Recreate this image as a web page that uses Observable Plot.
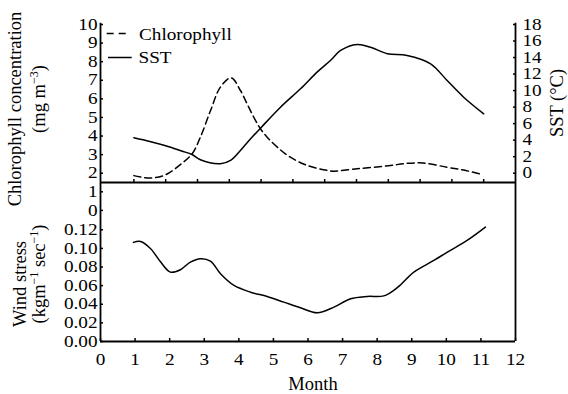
<!DOCTYPE html>
<html><head><meta charset="utf-8">
<script src="https://cdn.jsdelivr.net/npm/d3@7"></script>
<script src="https://cdn.jsdelivr.net/npm/@observablehq/plot@0.6"></script>
<style>
html,body{margin:0;padding:0;background:#fff;}
#chart{position:relative;width:568px;height:394px;overflow:hidden;font-family:"Liberation Serif","Times New Roman",serif;}
#chart svg{position:absolute;left:0;top:0;background:transparent;overflow:visible;}
</style></head><body><div id="chart"></div>
<script>
// ---------- data ----------
const chlMonth = [1.0, 1.5, 2.0, 2.5, 2.83, 3.09, 3.41, 3.72, 4.06, 4.35, 4.56, 4.77, 4.98, 5.19, 5.51, 5.92, 6.45, 7.08, 7.29, 8.02, 9.0, 9.6, 10.1, 10.85, 11.37, 11.9];
const chlValue = [1.87, 1.74, 1.92, 2.52, 3.04, 3.94, 5.37, 6.63, 7.13, 6.45, 5.73, 5.01, 4.39, 3.94, 3.4, 2.86, 2.42, 2.15, 2.11, 2.24, 2.4, 2.53, 2.55, 2.32, 2.17, 1.95];
const sstMonth = [1.0, 1.5, 2.0, 2.5, 2.83, 3.09, 3.72, 4.04, 4.35, 4.67, 5.01, 5.61, 6.24, 6.76, 7.18, 7.5, 8.02, 8.44, 8.97, 9.59, 10.33, 10.85, 11.37, 12.0];
const sstValue = [4.29, 3.84, 3.32, 2.69, 2.26, 1.62, 1.14, 1.54, 2.75, 4.16, 5.57, 7.99, 10.22, 12.23, 13.64, 14.86, 15.58, 15.25, 14.46, 14.25, 13.24, 11.22, 9.2, 7.19];
const windMonth = [0.95, 1.16, 1.45, 1.74, 2.02, 2.31, 2.60, 2.89, 3.18, 3.47, 3.86, 4.34, 4.82, 5.30, 5.78, 6.27, 6.75, 7.23, 7.71, 8.19, 8.48, 8.68, 9.06, 9.64, 10.03, 10.6, 11.13];
const windValue = [0.1065, 0.1075, 0.0997, 0.0853, 0.0745, 0.0771, 0.0853, 0.089, 0.0864, 0.0728, 0.0602, 0.053, 0.0484, 0.0423, 0.0362, 0.0308, 0.0369, 0.0459, 0.0484, 0.049, 0.055, 0.061, 0.0745, 0.0871, 0.096, 0.1086, 0.1229];

const chlTicks = [0,1,2,3,4,5,6,7,8,9,10];
const sstTicks = [0,2,4,6,8,10,12,14,16,18];
const windTicks = [0,0.02,0.04,0.06,0.08,0.10,0.12];
const monthTicks = [0,1,2,3,4,5,6,7,8,9,10,11,12];
const topMonthTicks = [1,2,3,4,5,6,7,8,9,10,11,12];
const topPanelFloor = 1.5;

const chl = chlMonth.map((m,i) => ({month: m, value: chlValue[i]}));
const sst = sstMonth.map((m,i) => ({month: m, value: sstValue[i]}));
const wind = windMonth.map((m,i) => ({month: m, value: windValue[i]}));

// ---------- layout ----------
const W = 568, H = 394;
const font = "Liberation Serif";
const common = {width: W, height: H, style: {background: "transparent", fontFamily: font, fontSize: "16px", color: "#000", overflow: "visible"}};
const axisW = 1.8, lineW = 1.5;

// left chlorophyll axis + middle panel line
const plotC = Plot.plot({
  ...common,
  marginLeft: 100, marginRight: 53, marginTop: 24, marginBottom: H - 209.9,
  x: {domain: [0, 13], axis: null},
  y: {domain: [0, 10]},
  marks: [
    Plot.axisY(chlTicks, {anchor: "left", tickSize: -3, tickPadding: 6, strokeWidth: 1.5, label: null}),
    Plot.ruleY([topPanelFloor], {strokeWidth: axisW})
  ]
});

// chlorophyll line + top panel month ticks
const plotM = Plot.plot({
  ...common,
  marginLeft: 101.6, marginRight: 53, marginTop: 24, marginBottom: H - 182,
  x: {domain: [0, 13]},
  y: {domain: [topPanelFloor, 10], axis: null},
  marks: [
    Plot.axisX(topMonthTicks, {anchor: "bottom", tickSize: -3, tickFormat: () => "", strokeWidth: 1.5, label: null}),
    Plot.line(chl, {x: "month", y: "value", curve: "catmull-rom", stroke: "#000", strokeWidth: lineW, strokeDasharray: "7,4"})
  ]
});

// SST line + right axis
const plotS = Plot.plot({
  ...common,
  marginLeft: 101.6, marginRight: 53, marginTop: 24, marginBottom: H - 172.7,
  x: {domain: [0, 13], axis: null},
  y: {domain: [0, 18]},
  marks: [
    Plot.axisY(sstTicks, {anchor: "right", tickSize: -3, tickPadding: 10, strokeWidth: 1.5, label: null}),
    Plot.line(sst, {x: "month", y: "value", curve: "catmull-rom", stroke: "#000", strokeWidth: lineW})
  ]
});

// wind stress panel
const plotW = Plot.plot({
  ...common,
  marginLeft: 100, marginRight: 53, marginTop: 229.3, marginBottom: 53,
  x: {domain: [0, 12]},
  y: {domain: [0, 0.12]},
  marks: [
    Plot.ruleX([0, 12], {insetTop: -(229.3 - 22.7), strokeWidth: axisW}),
    Plot.ruleY([0], {strokeWidth: axisW}),
    Plot.axisX(monthTicks, {anchor: "bottom", tickSize: -3, tickPadding: 15.6, strokeWidth: 1.5, label: null}),
    Plot.axisY(windTicks, {anchor: "left", tickSize: -3, tickPadding: 6, strokeWidth: 1.5, tickFormat: d3.format(".2f"), label: null}),
    Plot.line(wind, {x: "month", y: "value", curve: "catmull-rom", stroke: "#000", strokeWidth: lineW})
  ]
});

function stretch(svg, k) {
  svg.querySelectorAll("text").forEach(t => {
    let tr = t.getAttribute("transform");
    if (tr == null) {
      const x = +t.getAttribute("x") || 0, y = +t.getAttribute("y") || 0;
      t.removeAttribute("x"); t.removeAttribute("y");
      tr = `translate(${x},${y})`;
    }
    t.setAttribute("transform", tr + ` scale(${k},1)`);
  });
}
[plotC, plotS, plotW].forEach(p => stretch(p, 1.2));

const chart = document.getElementById("chart");
[plotC, plotM, plotS, plotW].forEach(p => chart.appendChild(p));

// ---------- titles and legend ----------
const ov = d3.select(chart).append("svg").attr("width", W).attr("height", H)
  .style("font-family", font).attr("fill", "#000");
const tsize = 18.5;
function vtitle(x, y, parts) {
  const t = ov.append("text").attr("transform", `translate(${x},${y}) rotate(-90)`)
    .attr("text-anchor", "middle").attr("font-size", tsize);
  parts.forEach(([s, sup]) => {
    const sp = t.append("tspan").text(s);
    if (sup === 1) sp.attr("dy", -7).attr("font-size", 12);
    if (sup === -1) sp.attr("dy", 7);
  });
  return t;
}
vtitle(21, 109, [["Chlorophyll concentration", 0]]);
vtitle(45, 99, [["(mg m", 0], ["\u22123", 1], [")", -1]]);
vtitle(25.5, 284, [["Wind stress", 0]]);
vtitle(45, 274, [["(kgm", 0], ["\u22121", 1], [" sec", -1], ["\u22121", 1], [")", -1]]);
vtitle(562.5, 103, [["SST (\u00B0C)", 0]]);
ov.append("text").attr("x", 313).attr("y", 390).attr("text-anchor", "middle").attr("font-size", tsize).text("Month");

// legend
ov.append("line").attr("x1", 106.7).attr("x2", 127).attr("y1", 33.5).attr("y2", 33.5)
  .attr("stroke", "#000").attr("stroke-width", lineW).attr("stroke-dasharray", "7,5");
ov.append("line").attr("x1", 108).attr("x2", 131.7).attr("y1", 57.5).attr("y2", 57.5)
  .attr("stroke", "#000").attr("stroke-width", lineW);
ov.append("text").attr("transform", "translate(139,40) scale(1.2,1)").attr("font-size", 16).text("Chlorophyll");
ov.append("text").attr("transform", "translate(138.5,63) scale(1.2,1)").attr("font-size", 16).text("SST");
</script></body></html>
